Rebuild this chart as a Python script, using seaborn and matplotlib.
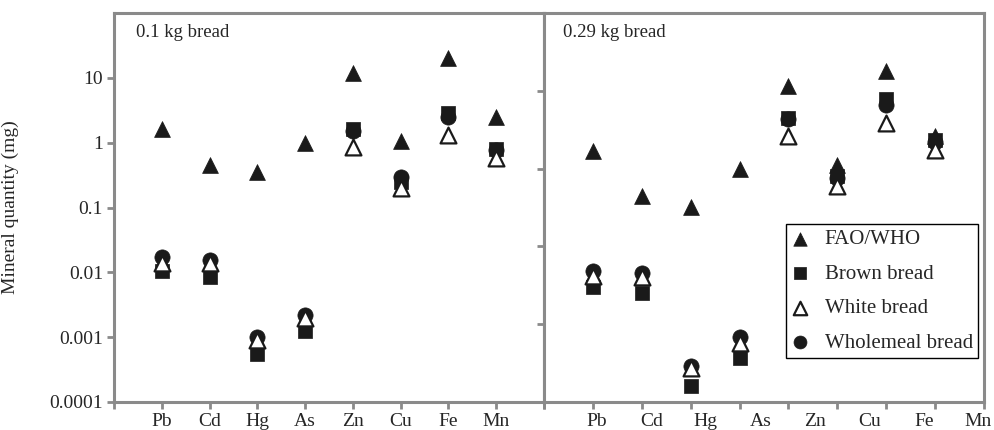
import numpy as np
import matplotlib
matplotlib.use("Agg")
import matplotlib.pyplot as plt
import seaborn as sns

elements = ["Pb", "Cd", "Hg", "As", "Zn", "Cu", "Fe", "Mn"]
series_names = ["FAO/WHO", "Brown bread", "White bread", "Wholemeal bread"]

# 0.1 kg bread (mg)
fao_01 = [1.6, 0.45, 0.35, 1.0, 11.7, 1.05, 20.0, 2.5]
brown_01 = [0.0105, 0.0086, 0.00055, 0.00125, 1.6, 0.25, 2.9, 0.81]
white_01 = [0.014, 0.014, 0.0009, 0.002, 0.87, 0.2, 1.3, 0.57]
whole_01 = [0.017, 0.0156, 0.001, 0.0022, 1.5, 0.3, 2.45, 0.78]

# 0.29 kg bread (mg)
fao_029 = [1.7, 0.45, 0.32, 1.0, 11.6, 1.1, 18.0, 2.6]
brown_029 = [0.030, 0.025, 0.0016, 0.0037, 4.5, 0.81, 7.9, 2.3]
white_029 = [0.042, 0.040, 0.0027, 0.0057, 2.6, 0.59, 3.8, 1.74]
whole_029 = [0.048, 0.045, 0.0029, 0.0068, 4.4, 0.76, 6.6, 2.2]

panel_titles = ["0.1 kg bread", "0.29 kg bread"]
left_ticks = [0.0001, 0.001, 0.01, 0.1, 1, 10]
left_tick_labels = ["0.0001", "0.001", "0.01", "0.1", "1", "10"]

sns.set_style("white")
plt.rcParams['font.family'] = ['Liberation Serif', 'DejaVu Serif']

GRAY = "#8a8a8a"
FS = 14

fig = plt.figure(figsize=(9.94, 4.3), dpi=100)
ax1 = fig.add_axes([114 / 994, 1 - 402 / 430, 430 / 994, 389 / 430])
ax2 = fig.add_axes([544 / 994, 1 - 402 / 430, 440 / 994, 389 / 430])

xpos = np.arange(1, len(elements) + 1)


def draw_panel(ax, fao, brown, white, whole):
    sns.scatterplot(x=xpos, y=whole, ax=ax, marker="o", s=120, color="#1a1a1a",
                    edgecolor="#1a1a1a", linewidth=0.5, label=series_names[3], zorder=3)
    sns.scatterplot(x=xpos, y=brown, ax=ax, marker="s", s=110, color="#1a1a1a",
                    edgecolor="#1a1a1a", linewidth=0.5, label=series_names[1], zorder=3)
    sns.scatterplot(x=xpos, y=white, ax=ax, marker="^", s=130, color="white",
                    edgecolor="#1a1a1a", linewidth=1.6, label=series_names[2], zorder=4)
    sns.scatterplot(x=xpos, y=fao, ax=ax, marker="^", s=130, color="#1a1a1a",
                    edgecolor="#1a1a1a", linewidth=0.5, label=series_names[0], zorder=4)
    ax.set_yscale("log")
    ax.set_xlim(0, 9)
    for sp in ax.spines.values():
        sp.set_visible(True)
        sp.set_color(GRAY)
        sp.set_linewidth(2.2)
    ax.tick_params(which="major", direction="out", length=5, width=2, color=GRAY,
                   labelsize=FS, pad=3, bottom=True, left=True)
    ax.tick_params(axis="y", which="minor", left=False, right=False)


draw_panel(ax1, fao_01, brown_01, white_01, whole_01)
draw_panel(ax2, fao_029, brown_029, white_029, whole_029)

# left panel axes
ax1.set_ylim(1e-4, 1e2)
ax1.set_yticks(left_ticks)
ax1.set_yticklabels(left_tick_labels)
ax1.yaxis.set_minor_locator(matplotlib.ticker.NullLocator())
ax1.set_xticks(range(10))
ax1.set_xticklabels([""] + elements + [""])
ax1.set_ylabel("Mineral quantity (mg)", fontsize=FS, labelpad=22)
ax1.get_legend().remove()

# right panel axes
ax2.set_ylim(1e-3, 1e2)
ax2.set_yticks([1e-3, 1e-2, 1e-1, 1, 10, 100])
ax2.set_yticklabels([])
ax2.yaxis.set_minor_locator(matplotlib.ticker.NullLocator())
ax2.set_xticks(range(10))
ax2.set_xticklabels([])
ax2.set_xticks(1.08 + 1.115 * np.arange(len(elements)), minor=True)
ax2.set_xticklabels(elements, minor=True)
ax2.tick_params(axis="x", which="minor", length=0, labelsize=FS, pad=8)

for ax, title in zip([ax1, ax2], panel_titles):
    ax.text(0.05, 0.951, title, transform=ax.transAxes, fontsize=FS - 0.5,
            ha="left", va="center")
ax2.texts[0].set_x(0.043)

handles, labels = ax2.get_legend_handles_labels()
order = [labels.index(n) for n in series_names]
leg = ax2.legend([handles[i] for i in order], series_names, loc="upper right",
                 bbox_to_anchor=(0.987, 0.457), fontsize=FS + 1, frameon=True,
                 fancybox=False, framealpha=1, edgecolor="black",
                 handlelength=0.8, handletextpad=0.8, labelspacing=0.72,
                 borderpad=0.25, borderaxespad=0, markerscale=0.85)
leg.get_frame().set_linewidth(1.0)

fig.savefig("out.png", dpi=100)
